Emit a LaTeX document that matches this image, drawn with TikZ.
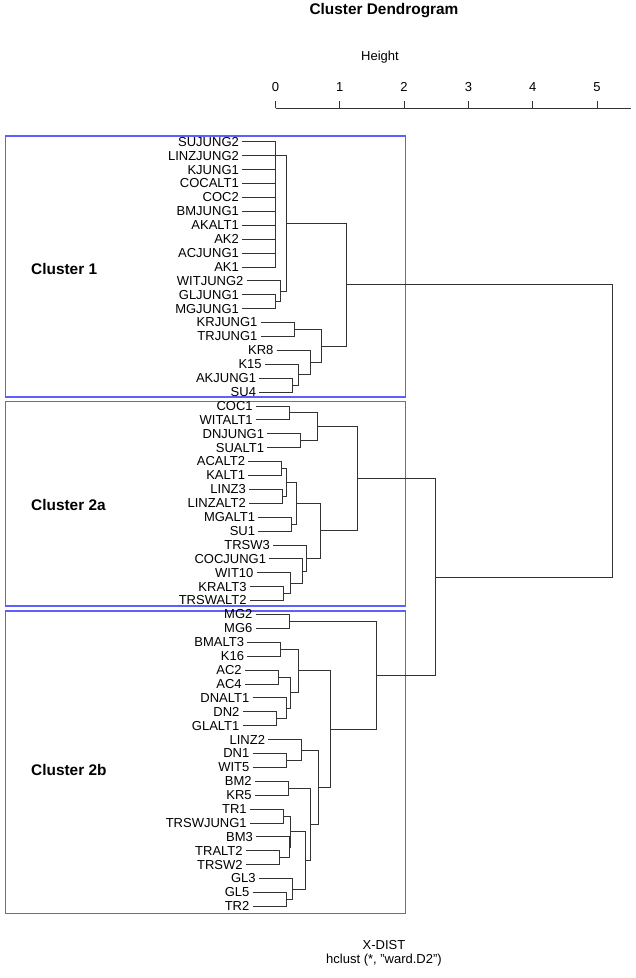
\documentclass[tikz,border=0pt]{standalone}
\usepackage{fontspec}
\setmainfont{Liberation Sans}
\usetikzlibrary{calc}
\definecolor{boxblue}{RGB}{95,95,255}

\begin{document}
\begin{tikzpicture}[x=1pt,y=-1pt,
  dend/.style={draw=black!80,line width=0.8pt},
  leaf/.style={anchor=east,inner xsep=3pt,inner ysep=0pt,font=\fontsize{13}{13}\selectfont},
  clbox/.style={draw=boxblue,line width=1.5pt},
  cllabel/.style={anchor=west,inner sep=0pt,font=\fontsize{15.4}{16}\selectfont\bfseries},
  plain/.style={inner sep=0pt,font=\fontsize{13}{13}\selectfont}]
\useasboundingbox (0,0) rectangle (636,978);

\node[plain,font=\fontsize{15.4}{16}\selectfont\bfseries] (title) at (384,11) {Cluster Dendrogram};
\node[plain] (height) at (380,57) {Height};

% height axis
\begin{scope}[shift={(275.5,108)},x=64.3pt]
  \draw[dend] (0,0) coordinate (axis0) -- (5.53,0) coordinate (axis1);
  \foreach \t in {0,...,5} {
    \draw[dend] (\t,0) -- (\t,-7);
    \node[plain] (tick\t) at (\t,-21) {\t};
  }
\end{scope}

% cluster boxes
\draw[clbox] (5.5,136) rectangle (405.5,397);
\draw[clbox] (5.5,401.5) rectangle (405.5,606);
\draw[clbox] (5.5,611) rectangle (405.5,913.5);
\node[cllabel] (cl1) at (31,269) {Cluster 1};
\node[cllabel] (cl2a) at (31,505) {Cluster 2a};
\node[cllabel] (cl2b) at (31,770) {Cluster 2b};

% dendrogram: x = height, y = leaf order
\begin{scope}[shift={(275.5,141.8)},x=64.3pt,y=-13.9pt]
\foreach \name/\h [count=\i from 0] in {SUJUNG2/0,LINZJUNG2/0,KJUNG1/0,COCALT1/0,COC2/0,
    BMJUNG1/0,AKALT1/0,AK2/0,ACJUNG1/0,AK1/0,WITJUNG2/0.07,GLJUNG1/0,MGJUNG1/0,
    KRJUNG1/0.288,TRJUNG1/0.288,KR8/0.537,K15/0.355,AKJUNG1/0.267,SU4/0.267,
    COC1/0.215,WITALT1/0.215,DNJUNG1/0.392,SUALT1/0.392,ACALT2/0.096,KALT1/0.096,
    LINZ3/0.109,LINZALT2/0.109,MGALT1/0.252,SU1/0.252,TRSW3/0.482,COCJUNG1/0.423,
    WIT10/0.226,KRALT3/0.121,TRSWALT2/0.121,MG2/0.21,MG6/0.21,BMALT3/0.081,K16/0.081,
    AC2/0.044,AC4/0.044,DNALT1/0.163,DN2/0.008,GLALT1/0.008,LINZ2/0.407,DN1/0.163,
    WIT5/0.163,BM2/0.199,KR5/0.199,TR1/0.121,TRSWJUNG1/0.121,BM3/0.218,TRALT2/0.059,
    TRSW2/0.059,GL3/0.261,GL5/0.163,TR2/0.163}
  \node[leaf] (\name) at (\h-0.52,\i) {\name};

% identical profiles, joined at height 0
\coordinate (z) at (0,1);
\foreach \n in {SUJUNG2,LINZJUNG2,KJUNG1,COCALT1,COC2,BMJUNG1,AKALT1,AK2,ACJUNG1,AK1}
  \draw[dend] (\n.east) -- (\n.east -| z);
\draw[dend] (SUJUNG2.east -| z) -- (AK1.east -| z);

\foreach \m/\a/\b/\h in {gm/GLJUNG1.east/MGJUNG1.east/0, wgm/WITJUNG2.east/gm/0.07,
    x1/z/wgm/0.163, kt/KRJUNG1.east/TRJUNG1.east/0.288, as/AKJUNG1.east/SU4.east/0.267,
    kas/K15.east/as/0.355, k8/KR8.east/kas/0.537, b1/kt/k8/0.718, c1/x1/b1/1.096,
    cw/COC1.east/WITALT1.east/0.215, ds/DNJUNG1.east/SUALT1.east/0.392, p/cw/ds/0.656,
    ak/ACALT2.east/KALT1.east/0.096, ll/LINZ3.east/LINZALT2.east/0.109, akl/ak/ll/0.163,
    ms/MGALT1.east/SU1.east/0.252, q1/akl/ms/0.33, kt2/KRALT3.east/TRSWALT2.east/0.121,
    w10/WIT10.east/kt2/0.226, cj/COCJUNG1.east/w10/0.423, t3/TRSW3.east/cj/0.482,
    q/q1/t3/0.703, c2a/p/q/1.272,
    mg/MG2.east/MG6.east/0.21, bk/BMALT3.east/K16.east/0.081, ac/AC2.east/AC4.east/0.044,
    dg/DN2.east/GLALT1.east/0.008, dd/DNALT1.east/dg/0.163, acd/ac/dd/0.236,
    bka/bk/acd/0.355, dw/DN1.east/WIT5.east/0.163, ldw/LINZ2.east/dw/0.407,
    bkr/BM2.east/KR5.east/0.199, tt/TR1.east/TRSWJUNG1.east/0.121,
    tt2/TRALT2.east/TRSW2.east/0.059, b3/BM3.east/tt2/0.218, tb/tt/b3/0.236,
    gt/GL5.east/TR2.east/0.163, ggt/GL3.east/gt/0.261, tg/tb/ggt/0.459,
    bt/bkr/tg/0.537, lb/ldw/bt/0.666, r2/bka/lb/0.855, c2b/mg/r2/1.574,
    c2/c2a/c2b/2.491, root/c1/c2/5.244} {
  \coordinate (\m) at ($(\a)!.5!(\b)$);
  \coordinate (\m) at (\h,0 |- \m);
  \draw[dend] (\a) -- (\a -| \m) -- (\b -| \m) -- (\b);
}
\end{scope}

\node[plain] (xlab) at (384,945) {X-DIST};
\node[plain] (method) at (384,960.5) {hclust (*, "ward.D2")};
\end{tikzpicture}
\end{document}
